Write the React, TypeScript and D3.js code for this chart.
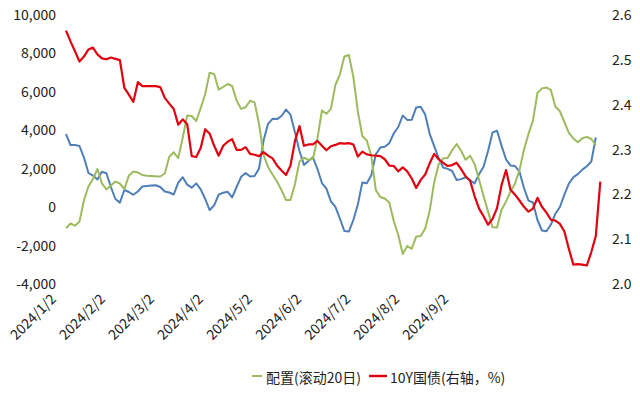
import React from "react";
import * as d3 from "d3";

// Trading-day series (index = trading day from 2024/1/2)
const allocation20d: number[] = [
  -1153, -904, -1018, -805, 304, 1022, 1412, 1933, 1189, 866,
  1074, 1277, 1178, 892, 1589, 1798, 1756, 1621, 1579, 1569,
  1553, 1543, 1699, 2568, 2802, 2505, 3562, 4723, 4691, 4431,
  5108, 5836, 6945, 6882, 6065, 6201, 6357, 6253, 5493, 5061,
  5149, 5488, 5399, 4275, 2662, 2042, 1647, 1282, 830, 320,
  320, 1152, 2323, 2521, 2401, 2469, 3520, 4978, 4806, 5066,
  6305, 6862, 7788, 7866, 6721, 4926, 3650, 3416, 2594, 840,
  476, 398, 189, -773, -1502, -2491, -2074, -2220, -1585, -1554,
  -1164, -237, 1241, 2178, 2490, 2511, 2906, 3234, 2880, 2412,
  2630, 2193, 1376, 523, -284, -1101, -1112, -185, 231, 767,
  1163, 1876, 2932, 3760, 4447, 5888, 6128, 6180, 6034, 5170,
  4936, 4379, 3817, 3526, 3328, 3531, 3604, 3494, 3182,
];

const blueSeries: number[] = [
  3754, 3182, 3182, 3130, 2531, 1725, 1589, 1386, 1792, 1714,
  996, 372, 184, 840, 736, 590, 762, 1022, 1048, 1069,
  1090, 996, 762, 710, 606, 1220, 1506, 1116, 960, 1184,
  871, 372, -201, 44, 595, 699, 746, 455, 996, 1527,
  1725, 1543, 1563, 1964, 3411, 4285, 4546, 4530, 4691, 5024,
  4759, 3833, 2870, 2146, 2354, 2542, 1933, 1204, 908, 247,
  -40, -643, -1294, -1325, -721, 85, 1236, 1194, 1605, 2703,
  3047, 3094, 3276, 3781, 4119, 4717, 4488, 4494, 5139, 5175,
  4769, 3765, 3125, 2495, 2011, 1938, 1829, 1360, 1407, 1506,
  1340, 1189, 1657, 2053, 2870, 3838, 3921, 3151, 2438, 2110,
  2089, 1792, 944, 288, 189, -721, -1268, -1309, -956, -393,
  -45, 601, 1178, 1501, 1668, 1902, 2079, 2323, 3572,
];

const cgb10y: number[] = [
  2.563, 2.539, 2.517, 2.494, 2.505, 2.521, 2.525, 2.51, 2.501, 2.499,
  2.503, 2.5, 2.497, 2.435, 2.42, 2.404, 2.448, 2.439, 2.439, 2.439,
  2.439, 2.437, 2.413, 2.4, 2.388, 2.353, 2.365, 2.354, 2.283, 2.281,
  2.301, 2.343, 2.333, 2.306, 2.284, 2.306, 2.315, 2.321, 2.297, 2.297,
  2.303, 2.288, 2.286, 2.283, 2.292, 2.284, 2.278, 2.262, 2.251, 2.241,
  2.262, 2.317, 2.35, 2.306, 2.309, 2.309, 2.317, 2.306, 2.296, 2.305,
  2.308, 2.312, 2.311, 2.312, 2.309, 2.282, 2.293, 2.287, 2.285, 2.284,
  2.283, 2.276, 2.262, 2.261, 2.249, 2.258, 2.249, 2.233, 2.212, 2.23,
  2.242, 2.267, 2.288, 2.276, 2.268, 2.261, 2.263, 2.268, 2.254, 2.238,
  2.228, 2.194, 2.166, 2.149, 2.13, 2.143, 2.167, 2.218, 2.252, 2.208,
  2.197, 2.184, 2.17, 2.159, 2.166, 2.19, 2.17, 2.157, 2.141, 2.139,
  2.132, 2.115, 2.076, 2.041, 2.042, 2.041, 2.039, 2.069, 2.105, 2.226,
];

const xTickLabels: string[] = [
  "2024/1/2", "2024/2/2", "2024/3/2", "2024/4/2", "2024/5/2",
  "2024/6/2", "2024/7/2", "2024/8/2", "2024/9/2",
];
const leftTicks: number[] = [-4000, -2000, 0, 2000, 4000, 6000, 8000, 10000];
const rightTicks: number[] = [2.0, 2.1, 2.2, 2.3, 2.4, 2.5, 2.6];

const legendNames: string[] = ["配置(滚动20日)", "10Y国债(右轴，%)"];

const W = 640;
const H = 397;
const TOP = 14;
const BOTTOM = 283;
const LEFT = 66;
const RIGHT = 600.3;
const TICK_EVERY = 10.92;

const RED = "#e1000f";
const BLUE = "#4f7fb8";
const GREEN = "#9dbb5e";
const TEXT = "#222";
const FONT = "'Noto Sans CJK SC', 'Open Sans', sans-serif";

export default function App() {
  const n = cgb10y.length;
  const x = d3.scaleLinear().domain([0, n - 1]).range([LEFT, RIGHT]);
  const yL = d3.scaleLinear().domain([-4000, 10000]).range([BOTTOM, TOP]);
  const yR = d3.scaleLinear().domain([2.0, 2.6]).range([BOTTOM, TOP]);

  const lineL = d3
    .line<number>()
    .x((_, i) => x(i))
    .y((d) => yL(d));
  const lineR = d3
    .line<number>()
    .x((_, i) => x(i))
    .y((d) => yR(d));

  const fmtL = (v: number) => {
    const s = d3.format(",")(Math.abs(v));
    return v < 0 ? "-" + s : s;
  };
  const fmtR = d3.format(".1f");

  return (
    <svg
      width={W}
      height={H}
      style={{ position: "absolute", left: 0, top: 0, background: "#fff" }}
      fontFamily={FONT}
    >
      <defs>
        <linearGradient id="fade" x1="0" x2="1" y1="0" y2="0">
          <stop offset="0" stopColor="#ffffff" />
          <stop offset="0.85" stopColor="#d4d8c8" />
          <stop offset="1" stopColor="#b9c99a" />
        </linearGradient>
      </defs>
      <rect width={W} height={H} fill="#fff" />

      {/* left axis labels */}
      {leftTicks.map((t) => (
        <text
          key={"l" + t}
          x={56}
          y={yL(t)}
          textAnchor="end"
          dominantBaseline="central"
          fontSize={14}
          fill={TEXT}
        >
          {fmtL(t)}
        </text>
      ))}

      {/* right axis labels */}
      {rightTicks.map((t) => (
        <text
          key={"r" + t}
          x={612}
          y={yR(t)}
          textAnchor="start"
          dominantBaseline="central"
          fontSize={14}
          fill={TEXT}
        >
          {fmtR(t)}
        </text>
      ))}

      {/* x labels */}
      {xTickLabels.map((lab, k) => {
        const px = x(k * TICK_EVERY) - 9;
        const py = 300;
        return (
          <text
            key={lab}
            x={px}
            y={py}
            textAnchor="end"
            fontSize={14}
            fill={TEXT}
            transform={`rotate(-45, ${px}, ${py})`}
          >
            {lab}
          </text>
        );
      })}

      {/* series */}
      <path d={lineL(blueSeries) || ""} fill="none" stroke={BLUE} strokeWidth={2} strokeLinejoin="round" />
      <path d={lineL(allocation20d) || ""} fill="none" stroke={GREEN} strokeWidth={2} strokeLinejoin="round" />
      <path d={lineR(cgb10y) || ""} fill="none" stroke={RED} strokeWidth={2.2} strokeLinejoin="round" />

      {/* legend */}
      <line x1={200} x2={253} y1={376} y2={376} stroke="url(#fade)" strokeWidth={2} />
      <line x1={252} x2={262} y1={376} y2={376} stroke={GREEN} strokeWidth={2} />
      <text x={266} y={377} dominantBaseline="central" fontSize={14} fill={TEXT}>
        {legendNames[0]}
      </text>
      <line x1={369} x2={387} y1={376} y2={376} stroke={RED} strokeWidth={2.4} />
      <text x={390} y={377} dominantBaseline="central" fontSize={14} fill={TEXT}>
        {legendNames[1]}
      </text>
    </svg>
  );
}
